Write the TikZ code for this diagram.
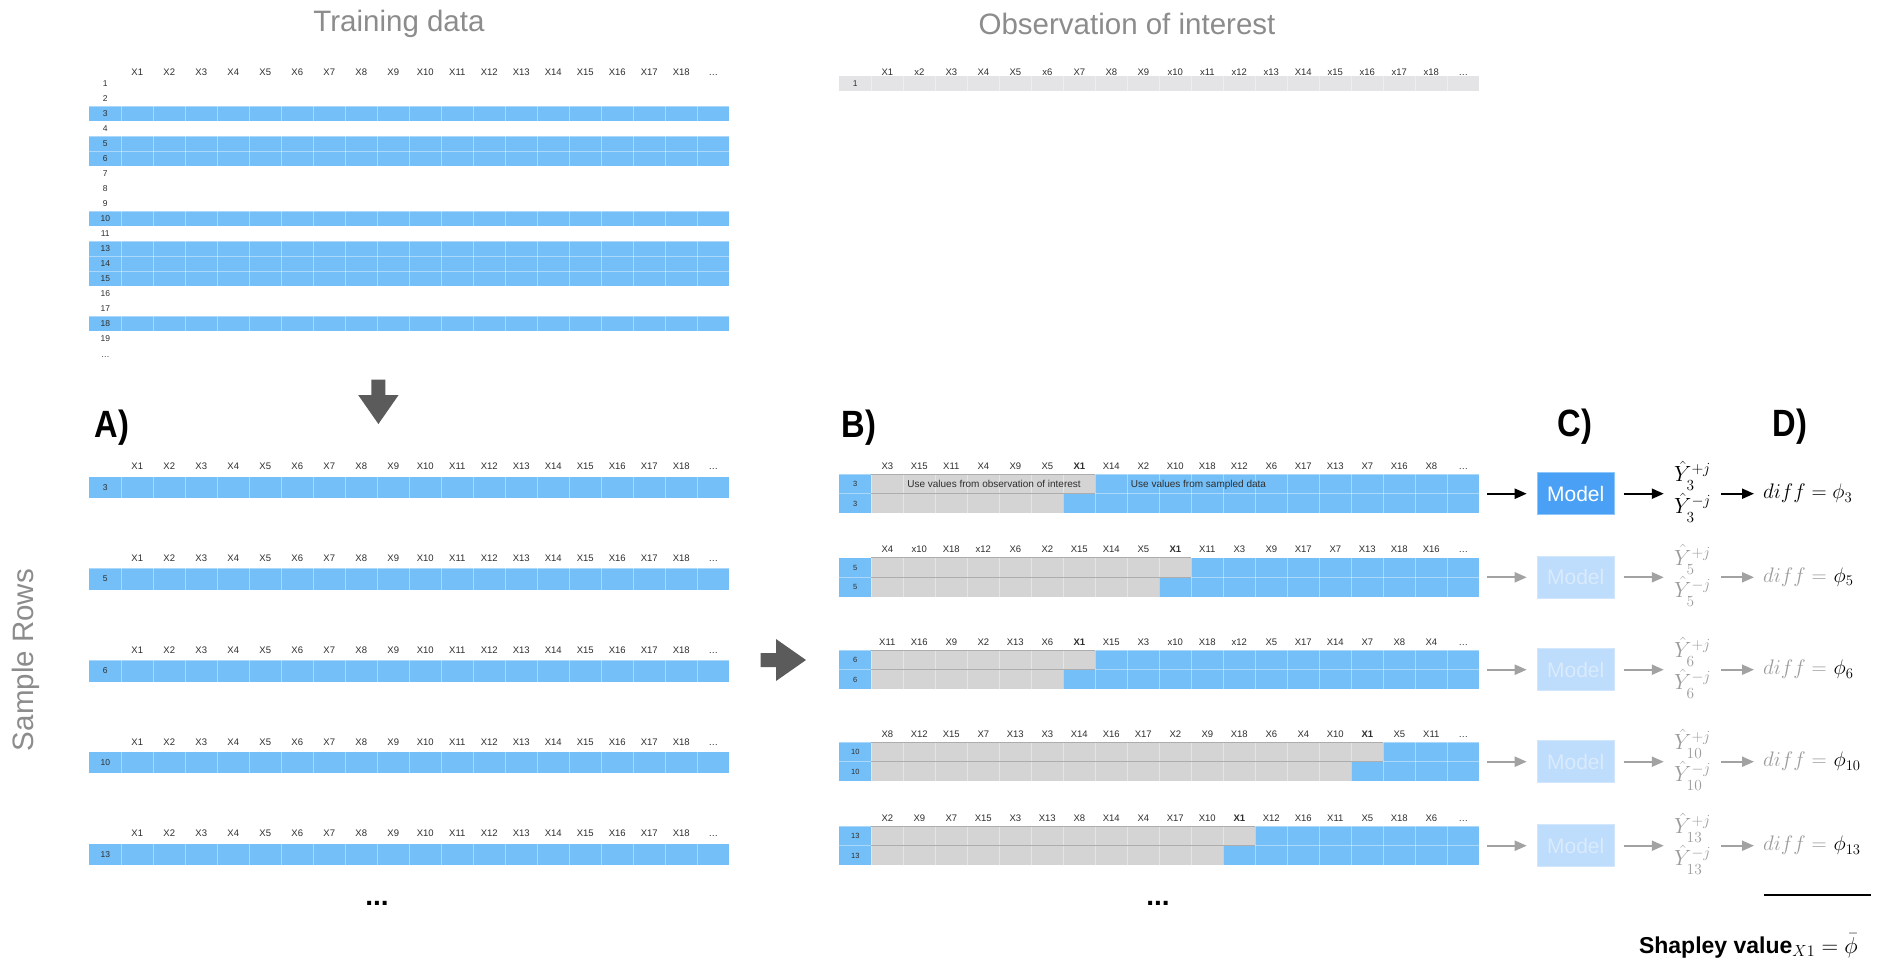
\RequirePackage{fix-cm}
\documentclass[tikz,border=0pt]{standalone}
\usepackage[no-math]{fontspec}
\setmainfont{Liberation Sans}
\newfontfamily\condbf[FakeStretch=0.86]{Liberation Sans}
\usetikzlibrary{arrows.meta,fit}
\definecolor{cblue}{HTML}{74BFF8}
\definecolor{cgray}{HTML}{D4D4D4}
\definecolor{cobs}{HTML}{E4E4E7}
\definecolor{cline}{HTML}{ADADAD}
\definecolor{cmodel}{HTML}{4AA0F5}
\definecolor{cmodelb}{HTML}{8EC6F9}
\definecolor{cfade}{HTML}{BEDCFB}
\definecolor{cfadetxt}{HTML}{D9EBFD}
\definecolor{cfadeb}{HTML}{D2E7FC}
\definecolor{carrg}{HTML}{A2A2A2}
\definecolor{ctxtg}{HTML}{9C9C9C}
\definecolor{ctitle}{HTML}{8C8C8C}
\definecolor{cblock}{HTML}{5B5B5B}
\definecolor{ctab}{HTML}{2E2E2E}
\newcommand\lsub[1]{\lower3.5pt\hbox{$\scriptstyle #1$}}
\newcommand\seprow[3]{\foreach \j in {1,...,19}{\draw[sep] ({#1+32*\j},#2) -- ({#1+32*\j},#3);}}
\newcommand\atable[3]{%
  \foreach \lab [count=\i] in {X1,X2,X3,X4,X5,X6,X7,X8,X9,X10,X11,X12,X13,X14,X15,X16,X17,X18,\ldots}
    {\node[hdr] (#1h\i) at ({89.3+32*\i+16},#2+3.4) {\lab};}
  \fill[cblue] (89.3,#2+10) rectangle (729.3,#2+31.5);
  \draw[sep] (89.3,#2+10) -- (729.3,#2+10);
  \seprow{89.3}{#2+10}{#2+31.5}
  \node[rlab] (#1l) at (105.3,#2+20.75) {#3};
}
\newcommand\btable[5]{%
  \foreach \lab [count=\i] in {#5}
    {\node[hdr] (#1h\i) at ({839.3+32*\i+16},#2+3.4) {\lab};}
  \fill[cblue] (839.3,#2+8.5) rectangle (1479.3,#2+47.5);
  \fill[cgray] (871.3,#2+8.5) rectangle ({871.3+32*#4},#2+28);
  \fill[cgray] (871.3,#2+28) rectangle ({871.3+32*(#4-1)},#2+47.5);
  \seprow{839.3}{#2+8.5}{#2+47.5}
  \draw[sep] (839.3,#2+28) -- (1479.3,#2+28);
  \draw[sep] (839.3,#2+8.5) -- (1479.3,#2+8.5);
  \draw[gline] (871.3,#2+8.5) -- ({871.3+32*#4},#2+8.5);
  \draw[gline] (871.3,#2+28) -- ({871.3+32*#4},#2+28);
  \node[blab] (#1a) at (855.3,#2+18.25) {#3};
  \node[blab] (#1b) at (855.3,#2+37.75) {#3};
  \coordinate (#1e) at (1479.3,#2+28);
}
\begin{document}
\begin{tikzpicture}[x=1pt,y=-1pt,
  hdr/.style={font=\fontsize{9.5}{11}\selectfont, text=ctab, inner sep=0, anchor=base},
  rlab/.style={font=\fontsize{8.5}{10}\selectfont, text=ctab, inner sep=0},
  blab/.style={font=\fontsize{7.5}{9}\selectfont, text=ctab, inner sep=0},
  sep/.style={draw=white, draw opacity=0.4, line width=0.9},
  gline/.style={draw=cline, line width=1},
  title/.style={font=\fontsize{29.5}{34}\selectfont, text=ctitle, inner sep=0},
  panel/.style={font=\condbf\bfseries\fontsize{38}{44}\selectfont, inner sep=0},
  modelbox/.style={rectangle, minimum width=77pt, minimum height=42.5pt, inner sep=0, font=\fontsize{21}{25}\selectfont, line width=1},
  arr/.style={-{Triangle[length=12pt,width=10pt]}, line width=2},
  ymath/.style={font=\fontsize{22}{26}\selectfont, inner sep=0, anchor=base west},
  dmath/.style={font=\fontsize{21}{25}\selectfont, inner sep=0, anchor=west},
  dots/.style={font=\bfseries\fontsize{28}{30}\selectfont, inner sep=0, anchor=base},
]
\fill[white] (0,0) rectangle (1878,977);
% titles
\node[title] (t1) at (399,24) {Training data};
\node[title] (t2) at (1127,24) {Observation of interest};
\node[title, rotate=90] (sr) at (26,660) {Sample Rows};
% training table
\foreach \lab [count=\i] in {X1,X2,X3,X4,X5,X6,X7,X8,X9,X10,X11,X12,X13,X14,X15,X16,X17,X18,\ldots}
  {\node[hdr] (th\i) at ({89.3+32*\i+16},75.1) {\lab};}
\foreach \lab/\isb [count=\k from 0] in {1/0,2/0,3/1,4/0,5/1,6/1,7/0,8/0,9/0,10/1,11/0,13/1,14/1,15/1,16/0,17/0,18/1,19/0} {
  \pgfmathsetmacro\yt{76+15*\k}
  \ifnum\isb=1
    \fill[cblue] (89.3,\yt) rectangle (729.3,\yt+15);
    \draw[sep] (89.3,\yt) -- (729.3,\yt);
    \seprow{89.3}{\yt}{\yt+15}
  \fi
  \node[rlab] (tl\k) at (105.3,\yt+7.5) {\lab};
}
\node[rlab] (tldots) at (105.3,357) {\ldots};
% observation table
\foreach \lab [count=\i] in {X1,x2,X3,X4,X5,x6,X7,X8,X9,x10,x11,x12,x13,X14,x15,x16,x17,x18,\ldots}
  {\node[hdr] (oh\i) at ({839.3+32*\i+16},75.1) {\lab};}
\fill[cobs] (839.3,76) rectangle (1479.3,91);
\seprow{839.3}{76}{91}
\node[rlab] (ol) at (855.3,83.5) {1};
% block arrows
\fill[cblock] (371.4,379.7) -- (385.4,379.7) -- (385.4,395) -- (398.6,395) -- (378.4,424) -- (358.2,395) -- (371.4,395) -- cycle;
\fill[cblock] (760.5,653) -- (776,653) -- (776,639) -- (806,660) -- (776,681) -- (776,667) -- (760.5,667) -- cycle;
% panel labels
\node[panel] (pA) at (112,428) {A)};
\node[panel] (pB) at (859,428) {B)};
\node[panel] (pC) at (1575,427) {C)};
\node[panel] (pD) at (1790,427) {D)};
% A tables
\atable{a1}{466.5}{3}
\atable{a2}{558.25}{5}
\atable{a3}{650}{6}
\atable{a4}{741.75}{10}
\atable{a5}{833.5}{13}
\node[dots] (dA) at (377,905) {...};
% B tables
\btable{b1}{465.7}{3}{7}{X3,X15,X11,X4,X9,X5,\textbf{X1},X14,X2,X10,X18,X12,X6,X17,X13,X7,X16,X8,\ldots}
\btable{b2}{549.3}{5}{10}{X4,x10,X18,x12,X6,X2,X15,X14,X5,\textbf{X1},X11,X3,X9,X17,X7,X13,X18,X16,\ldots}
\btable{b3}{641.7}{6}{7}{X11,X16,X9,X2,X13,X6,\textbf{X1},X15,X3,x10,X18,x12,X5,X17,X14,X7,X8,X4,\ldots}
\btable{b4}{733.7}{10}{16}{X8,X12,X15,X7,X13,X3,X14,X16,X17,X2,X9,X18,X6,X4,X10,\textbf{X1},X5,X11,\ldots}
\btable{b5}{817.7}{13}{12}{X2,X9,X7,X15,X3,X13,X8,X14,X4,X17,X10,\textbf{X1},X12,X16,X11,X5,X18,X6,\ldots}
\node[hdr, font=\fontsize{10}{12}\selectfont] (u1) at (994,487.5) {Use values from observation of interest};
\node[hdr, font=\fontsize{10}{12}\selectfont] (u2) at (1198.5,487.5) {Use values from sampled data};
\node[dots] (dB) at (1158,905) {...};
% row 1 (active)
\node[modelbox, fill=cmodel, draw=cmodelb, text=white] (m1) at (1575.7,493.7) {Model};
\draw[arr, shorten <=8pt, shorten >=10pt] (b1e) -- (m1);
\node[ymath] (yp1) at (1674,481.7) {$\hat{Y}^{+j}_{\lsub{3}}$};
\node[ymath] (ym1) at (1674,513.7) {$\hat{Y}^{-j}_{\lsub{3}}$};
\node[fit=(yp1)(ym1), inner sep=0] (yh1) {};
\node[dmath] (d1) at (1763,493.7) {$diff = \phi_3$};
\draw[arr, shorten <=9pt, shorten >=10pt] (m1.east) -- (m1.east -| yh1.west);
\draw[arr, shorten <=10pt, shorten >=9pt] (yh1.east |- d1.west) -- (d1.west);
% faded rows
\foreach \k/\hy/\lab in {2/549.3/5, 3/641.7/6, 4/733.7/10, 5/817.7/13} {
  \pgfmathsetmacro\mid{\hy+28}
  \node[modelbox, fill=cfade, draw=cfadeb, text=cfadetxt] (m\k) at (1575.7,\mid) {Model};
  \draw[arr, draw=carrg, fill=carrg, shorten <=8pt, shorten >=10pt] (b\k e) -- (m\k);
  \node[ymath, text=ctxtg] (yp\k) at (1674,\mid-12) {$\hat{Y}^{+j}_{\lsub{\lab}}$};
  \node[ymath, text=ctxtg] (ym\k) at (1674,\mid+20) {$\hat{Y}^{-j}_{\lsub{\lab}}$};
  \node[fit=(yp\k)(ym\k), inner sep=0] (yh\k) {};
  \node[dmath] (d\k) at (1763,\mid) {\textcolor{ctxtg}{$diff =$}\hspace{7pt}$\phi_{\lab}$};
  \draw[arr, draw=carrg, fill=carrg, shorten <=9pt, shorten >=10pt] (m\k.east) -- (m\k.east -| yh\k.west);
  \draw[arr, draw=carrg, fill=carrg, shorten <=10pt, shorten >=9pt] (yh\k.east |- d\k.west) -- (d\k.west);
}
% sum line and Shapley value
\draw[line width=2.5] (1764,895) -- (1871,895);
\node[anchor=base east, inner sep=0, font=\fontsize{23}{28}\selectfont] (shap) at (1858,953) {\textbf{Shapley value}$_{X1} = \bar{\phi}$};
\end{tikzpicture}
\end{document}
